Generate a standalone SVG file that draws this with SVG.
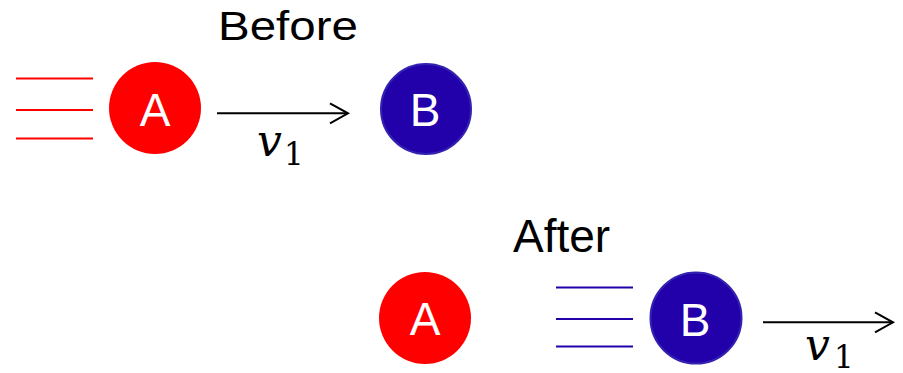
<svg xmlns="http://www.w3.org/2000/svg" width="903" height="373" viewBox="0 0 903 373">
<style>
.title{font-family:"Liberation Sans",Arial,sans-serif;fill:#000}
.lbl{font-family:"Liberation Sans",Arial,sans-serif;font-size:46px;fill:#fff;text-anchor:middle}
.red{fill:#FF0000}
.blue{fill:#2200AA;stroke:#3322B0;stroke-width:2}
.rl{stroke:#FF0000;stroke-width:1.8}
.bl{stroke:#2200AA;stroke-width:2}
.arr{stroke:#000;stroke-width:2;fill:none;marker-end:url(#head)}
.v{font-family:"DejaVu Serif",serif;font-style:italic;font-size:44px;fill:#000}
.sub{font-family:"DejaVu Serif",serif;font-size:31px;fill:#000}
</style>
<defs>
<marker id="head" markerUnits="userSpaceOnUse" markerWidth="24" markerHeight="26" viewBox="-20 -12 24 24" refX="0" refY="0" orient="auto">
<path d="M-18,-10 L0,0 L-18,10" fill="none" stroke="#000" stroke-width="2"/>
</marker>
</defs>
<text class="title" x="218" y="40" font-size="40" textLength="140" lengthAdjust="spacingAndGlyphs">Before</text>
<text class="title" x="513" y="252" font-size="46">After</text>
<g id="motion-lines-A">
<line class="rl" x1="16" y1="78.5" x2="93" y2="78.5"/>
<line class="rl" x1="16" y1="110" x2="93" y2="110"/>
<line class="rl" x1="16" y1="138.5" x2="93" y2="138.5"/>
</g>
<g id="nodeA-before">
<circle class="red" cx="155" cy="108" r="46"/>
<text class="lbl" x="155" y="126">A</text>
</g>
<g id="nodeB-before">
<circle class="blue" cx="426" cy="109" r="45"/>
<text class="lbl" x="425" y="126">B</text>
</g>
<g id="nodeA-after">
<circle class="red" cx="425" cy="318" r="46"/>
<text class="lbl" x="425" y="335">A</text>
</g>
<g id="motion-lines-B">
<line class="bl" x1="556" y1="287.5" x2="633" y2="287.5"/>
<line class="bl" x1="556" y1="319" x2="633" y2="319"/>
<line class="bl" x1="556" y1="346.5" x2="633" y2="346.5"/>
</g>
<g id="nodeB-after">
<circle class="blue" cx="696" cy="318" r="45.5"/>
<text class="lbl" x="695" y="336">B</text>
</g>
<g id="connectors">
<line class="arr" x1="217" y1="113.3" x2="348" y2="113.3"/>
<line class="arr" x1="763" y1="322.3" x2="893" y2="322.3"/>
</g>
<text class="v" x="257" y="156">v</text>
<text class="sub" x="284" y="165">1</text>
<text class="v" x="805" y="360">v</text>
<text class="sub" x="834" y="368">1</text>
</svg>
